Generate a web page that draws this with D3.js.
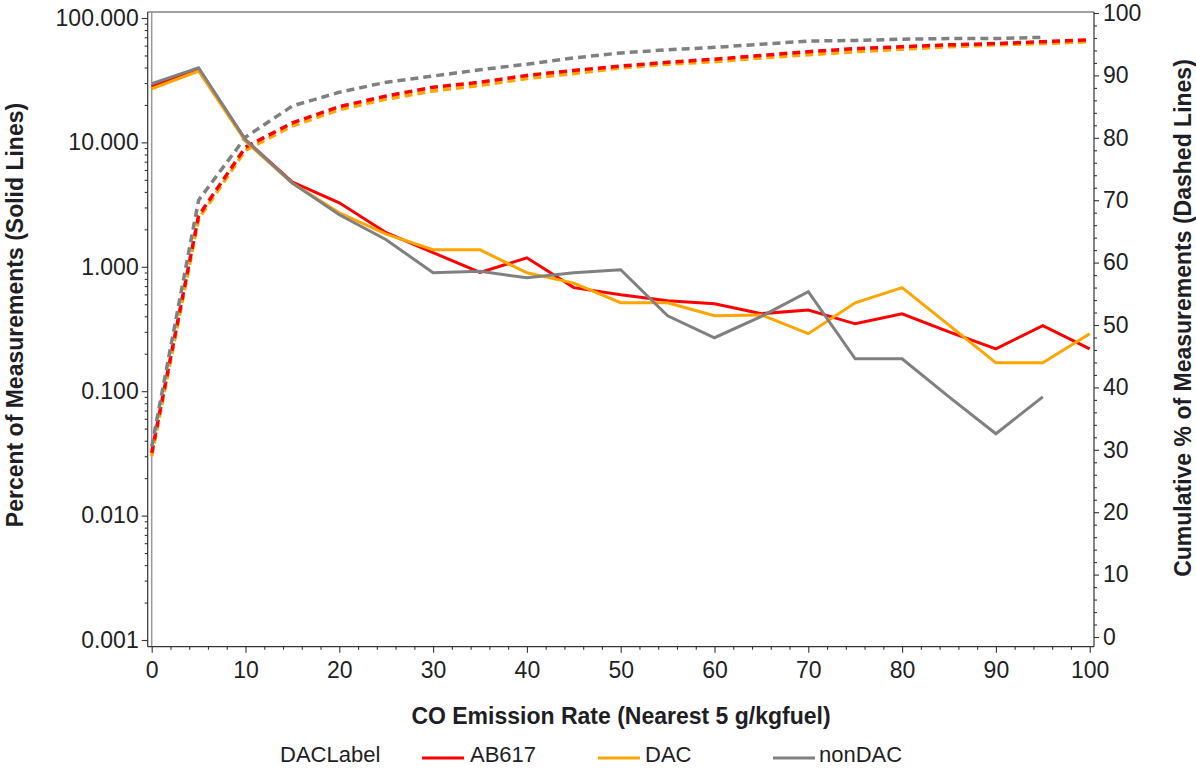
<!DOCTYPE html>
<html>
<head>
<meta charset="utf-8">
<script src="https://cdn.jsdelivr.net/npm/d3@7"></script>
<style>
  html, body { margin: 0; padding: 0; background: #fff; }
  svg text { font-family: "Liberation Sans", Arial, sans-serif; fill: #1e1e24; }
</style>
</head>
<body>
<svg id="chart" width="1196" height="769"></svg>
<script>
// ---------- data ----------
const xValues = [0,5,10,15,20,25,30,35,40,45,50,55,60,65,70,75,80,85,90,95,100];
const xValuesNonDAC = [0,5,10,15,20,25,30,35,40,45,50,55,60,65,70,75,80,85,90,95];

// Percent of measurements (solid lines, left log axis)
const pctAB617  = [28.0,39.0,10.5,4.8,3.27,1.88,1.30,0.90,1.18,0.68,0.596,0.533,0.504,0.42,0.45,0.348,0.419,0.30,0.219,0.336,0.219];
const pctDAC    = [27.0,37.5,10.2,4.7,2.72,1.83,1.37,1.37,0.895,0.74,0.514,0.514,0.404,0.41,0.29,0.514,0.68,0.34,0.169,0.169,0.29];
const pctNonDAC = [29.6,39.8,10.5,4.7,2.62,1.65,0.895,0.92,0.816,0.895,0.946,0.404,0.269,0.40,0.63,0.182,0.182,0.090,0.0455,0.090];

// Cumulative percent (dashed lines, right axis)
const cumAB617  = [29.5,67.5,78.5,82.4,85.0,86.7,88.1,88.9,90.0,90.8,91.5,92.1,92.6,93.2,93.8,94.3,94.6,94.9,95.1,95.4,95.7];
const cumDAC    = [29.0,67.0,78.0,81.9,84.5,86.2,87.5,88.4,89.5,90.3,91.2,91.8,92.2,92.8,93.3,93.8,94.2,94.6,94.9,95.1,95.4];
const cumNonDAC = [30.5,70.0,80.1,85.1,87.3,88.9,89.9,90.9,91.8,92.8,93.6,94.1,94.5,95.0,95.5,95.6,95.8,95.9,95.9,96.1];

// ticks
const leftTickValues  = [0.001,0.01,0.1,1,10,100];
const leftTickLabels  = ["0.001","0.010","0.100","1.000","10.000","100.000"];
const rightTickValues = [0,10,20,30,40,50,60,70,80,90,100];
const xTickValues     = [0,10,20,30,40,50,60,70,80,90,100];
const legendTitle = "DACLabel";
const seriesNames = ["AB617","DAC","nonDAC"];
const seriesColors = ["#ff0000","#ffa500","#808080"];

// ---------- layout ----------
const svg = d3.select("#chart");
svg.append("rect").attr("width",1196).attr("height",769).attr("fill","#fff");

const frameL = 151.7, frameR = 1094, frameT = 12, frameB = 646.7;
const axisLX = 147.7;

const x  = d3.scaleLinear().domain([0,100]).range([151.7, 1089.7]);
const yL = d3.scaleLog().domain([0.001,100]).range([640, 18]);
const yR = d3.scaleLinear().domain([0,100]).range([637, 13]);

const axisColor = "#333";

// frame
svg.append("line").attr("x1",axisLX).attr("x2",frameR).attr("y1",frameT).attr("y2",frameT)
  .attr("stroke","#444").attr("stroke-width",1.2);
svg.append("line").attr("x1",frameL).attr("x2",frameL).attr("y1",frameT).attr("y2",frameB)
  .attr("stroke","#999").attr("stroke-width",1.5);

// ---------- left axis ----------
const leftMinor = yL.ticks().filter(v => !leftTickValues.some(m => Math.abs(m - v) / m < 1e-6));
const gL = svg.append("g").attr("transform",`translate(${axisLX},0)`);
gL.call(d3.axisLeft(yL).tickValues(leftTickValues)
  .tickFormat((d,i) => leftTickLabels[i]).tickSize(6).tickPadding(3));
gL.append("g").call(d3.axisLeft(yL).tickValues(leftMinor).tickFormat("").tickSize(3))
  .select(".domain").remove();
gL.select(".domain").remove();
gL.append("line").attr("y1",frameT).attr("y2",frameB).attr("stroke",axisColor).attr("stroke-width",1.2);

// ---------- right axis ----------
const rightMinor = d3.range(0,101,2).filter(v => v % 10 !== 0);
const gR = svg.append("g").attr("transform",`translate(${frameR},0)`);
gR.call(d3.axisRight(yR).tickValues(rightTickValues).tickFormat(d3.format("d")).tickSize(5).tickPadding(4));
gR.append("g").call(d3.axisRight(yR).tickValues(rightMinor).tickFormat("").tickSize(3))
  .select(".domain").remove();
gR.select(".domain").remove();
gR.append("line").attr("y1",frameT).attr("y2",frameB).attr("stroke",axisColor).attr("stroke-width",1.2);

// ---------- bottom axis ----------
const xMinor = d3.range(0,101,2).filter(v => v % 10 !== 0);
const gB = svg.append("g").attr("transform",`translate(0,${frameB})`);
gB.call(d3.axisBottom(x).tickValues(xTickValues).tickFormat(d3.format("d")).tickSize(6).tickPadding(9));
gB.append("g").call(d3.axisBottom(x).tickValues(xMinor).tickFormat("").tickSize(3))
  .select(".domain").remove();
gB.select(".domain").remove();
gB.append("line").attr("x1",axisLX).attr("x2",frameR).attr("stroke",axisColor).attr("stroke-width",1.2);

svg.selectAll(".tick line").attr("stroke",axisColor).attr("stroke-width",1.1);
svg.selectAll(".tick text").style("font-size","23px").attr("fill","#1e1e24");

// ---------- lines ----------
const plot = svg.append("g");
function lineL(xs){ return d3.line().x((d,i)=>x(xs[i])).y(d=>yL(d)); }
function lineR(xs){ return d3.line().x((d,i)=>x(xs[i])).y(d=>yR(d)); }

const dashed = [
  {vals: cumDAC, xs: xValues, color: seriesColors[1]},
  {vals: cumAB617, xs: xValues, color: seriesColors[0]},
  {vals: cumNonDAC, xs: xValuesNonDAC, color: seriesColors[2]}
];
dashed.forEach(s => {
  plot.append("path").datum(s.vals).attr("d", lineR(s.xs))
    .attr("fill","none").attr("stroke",s.color).attr("stroke-width",3.5)
    .attr("stroke-dasharray","8,5");
});

const solid = [
  {vals: pctAB617, xs: xValues, color: seriesColors[0]},
  {vals: pctDAC, xs: xValues, color: seriesColors[1]},
  {vals: pctNonDAC, xs: xValuesNonDAC, color: seriesColors[2]}
];
solid.forEach(s => {
  plot.append("path").datum(s.vals).attr("d", lineL(s.xs))
    .attr("fill","none").attr("stroke",s.color).attr("stroke-width",3)
    .attr("stroke-linejoin","miter");
});

// ---------- titles ----------
svg.append("text").attr("x",621).attr("y",724).attr("text-anchor","middle")
  .style("font-size","23px").style("font-weight","bold")
  .text("CO Emission Rate (Nearest 5 g/kgfuel)");

svg.append("text").attr("transform","translate(23,315) rotate(-90)").attr("text-anchor","middle")
  .style("font-size","23px").style("font-weight","bold")
  .text("Percent of Measurements (Solid Lines)");

svg.append("text").attr("transform","translate(1191,318) rotate(-90)").attr("text-anchor","middle")
  .style("font-size","23px").style("font-weight","bold")
  .text("Cumulative % of Measurements (Dashed Lines)");

// ---------- legend ----------
const lg = svg.append("g");
lg.append("text").attr("x",280).attr("y",762).style("font-size","22px").text(legendTitle);
const legendPos = [{sx:422, tx:470},{sx:598, tx:645},{sx:773, tx:819}];
seriesNames.forEach((n,i) => {
  lg.append("line").attr("x1",legendPos[i].sx).attr("x2",legendPos[i].sx+42)
    .attr("y1",758).attr("y2",758).attr("stroke",seriesColors[i]).attr("stroke-width",3);
  lg.append("text").attr("x",legendPos[i].tx).attr("y",762).style("font-size","22px").text(n);
});
</script>
</body>
</html>
